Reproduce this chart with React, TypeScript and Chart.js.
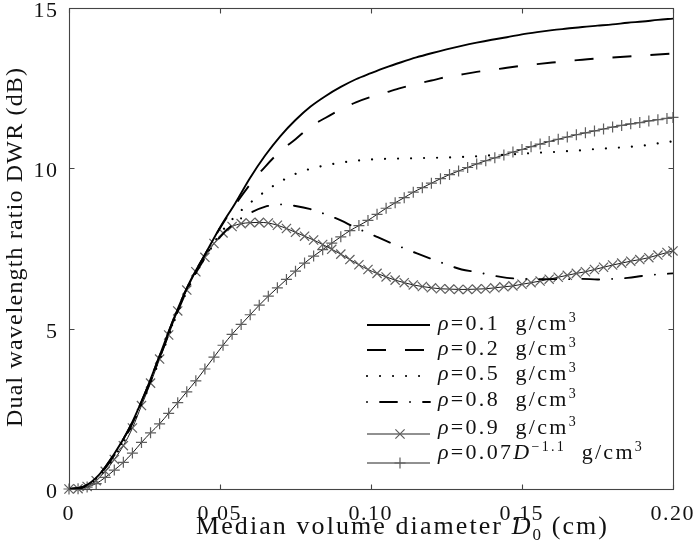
import React, { useEffect, useRef } from 'react';
import { Chart, registerables } from 'chart.js';

Chart.register(...registerables);

const FONT = '"Liberation Serif", "Times New Roman", serif';

// ---- axes ----
const xTicks = [0, 0.05, 0.1, 0.15, 0.2];
const xTickLabels = ['0', '0.05', '0.10', '0.15', '0.20'];
const yTicks = [0, 5, 10, 15];
const yTickLabels = ['0', '5', '10', '15'];

// ---- unmarked curves (D in cm, DWR in dB) ----
const lineD = [0, 0.005, 0.01, 0.015, 0.02, 0.025, 0.03, 0.035, 0.04, 0.045, 0.05, 0.055, 0.06, 0.065, 0.07, 0.075, 0.08, 0.085, 0.09, 0.095, 0.1, 0.105, 0.11, 0.115, 0.12, 0.125, 0.13, 0.135, 0.14, 0.145, 0.15, 0.155, 0.16, 0.165, 0.17, 0.175, 0.18, 0.185, 0.19, 0.195, 0.2];
const rho01 = [0, 0.08, 0.45, 1.1, 1.9, 2.95, 4.15, 5.38, 6.45, 7.3, 8.15, 8.9, 9.7, 10.4, 11.0, 11.5, 11.92, 12.25, 12.53, 12.77, 12.96, 13.14, 13.3, 13.45, 13.58, 13.7, 13.81, 13.91, 14.0, 14.08, 14.17, 14.24, 14.3, 14.35, 14.4, 14.44, 14.48, 14.53, 14.57, 14.62, 14.66];
const rho02 = [0, 0.08, 0.45, 1.1, 1.9, 2.95, 4.15, 5.38, 6.45, 7.3, 8.13, 8.85, 9.5, 10.05, 10.53, 10.9, 11.3, 11.57, 11.83, 12.05, 12.22, 12.36, 12.5, 12.62, 12.73, 12.84, 12.92, 13.0, 13.06, 13.13, 13.19, 13.24, 13.29, 13.34, 13.38, 13.42, 13.45, 13.48, 13.51, 13.54, 13.57];
const rho05 = [0, 0.07, 0.4, 1.0, 1.8, 2.85, 4.02, 5.27, 6.36, 7.22, 7.95, 8.5, 8.92, 9.28, 9.58, 9.82, 9.98, 10.09, 10.17, 10.23, 10.27, 10.29, 10.3, 10.31, 10.32, 10.33, 10.35, 10.37, 10.4, 10.42, 10.45, 10.48, 10.5, 10.53, 10.56, 10.6, 10.63, 10.66, 10.7, 10.77, 10.84];
const rho08 = [0, 0.07, 0.42, 1.05, 1.85, 2.9, 4.08, 5.3, 6.38, 7.2, 7.85, 8.3, 8.6, 8.8, 8.87, 8.82, 8.72, 8.56, 8.37, 8.14, 7.94, 7.73, 7.54, 7.35, 7.17, 7.0, 6.84, 6.76, 6.66, 6.58, 6.55, 6.54, 6.54, 6.54, 6.55, 6.53, 6.55, 6.58, 6.64, 6.69, 6.72];

// ---- marked curves ----
const markD = [0, 0.003, 0.006, 0.009, 0.012, 0.015, 0.018, 0.021, 0.024, 0.027, 0.03, 0.033, 0.036, 0.039, 0.042, 0.045, 0.048, 0.051, 0.054, 0.057, 0.06, 0.063, 0.066, 0.069, 0.072, 0.075, 0.078, 0.081, 0.084, 0.087, 0.09, 0.093, 0.096, 0.099, 0.102, 0.105, 0.108, 0.111, 0.114, 0.117, 0.12, 0.123, 0.126, 0.129, 0.132, 0.135, 0.138, 0.141, 0.144, 0.147, 0.15, 0.153, 0.156, 0.159, 0.162, 0.165, 0.168, 0.171, 0.174, 0.177, 0.18, 0.183, 0.186, 0.189, 0.192, 0.195, 0.198, 0.2];
const rho09 = [0, 0.01, 0.08, 0.26, 0.55, 0.92, 1.35, 1.9, 2.6, 3.3, 4.05, 4.8, 5.55, 6.2, 6.77, 7.22, 7.65, 7.98, 8.18, 8.27, 8.3, 8.31, 8.29, 8.22, 8.12, 8.0, 7.88, 7.76, 7.62, 7.47, 7.32, 7.15, 6.99, 6.84, 6.72, 6.61, 6.51, 6.43, 6.36, 6.31, 6.27, 6.24, 6.23, 6.22, 6.22, 6.23, 6.24, 6.27, 6.3, 6.33, 6.38, 6.43, 6.48, 6.54, 6.6, 6.66, 6.72, 6.77, 6.84, 6.91, 6.98, 7.04, 7.1, 7.15, 7.21, 7.29, 7.37, 7.42];
const rhoVar = [0, 0.01, 0.06, 0.17, 0.36, 0.59, 0.83, 1.12, 1.45, 1.75, 2.03, 2.36, 2.69, 3.03, 3.37, 3.74, 4.11, 4.48, 4.82, 5.13, 5.43, 5.73, 6.01, 6.27, 6.53, 6.79, 7.04, 7.26, 7.46, 7.66, 7.86, 8.05, 8.21, 8.37, 8.56, 8.75, 8.92, 9.08, 9.25, 9.39, 9.53, 9.67, 9.8, 9.91, 10.02, 10.13, 10.23, 10.32, 10.41, 10.5, 10.58, 10.67, 10.75, 10.83, 10.9, 10.97, 11.04, 11.1, 11.16, 11.22, 11.28, 11.33, 11.38, 11.42, 11.47, 11.51, 11.55, 11.58];

// ---- text ----
type Seg = { t: string; it?: boolean; sup?: boolean; sub?: boolean };
const legend01: Seg[] = [{ t: 'ρ', it: true }, { t: '=0.1  g/cm' }, { t: '3', sup: true }];
const legend02: Seg[] = [{ t: 'ρ', it: true }, { t: '=0.2  g/cm' }, { t: '3', sup: true }];
const legend05: Seg[] = [{ t: 'ρ', it: true }, { t: '=0.5  g/cm' }, { t: '3', sup: true }];
const legend08: Seg[] = [{ t: 'ρ', it: true }, { t: '=0.8  g/cm' }, { t: '3', sup: true }];
const legend09: Seg[] = [{ t: 'ρ', it: true }, { t: '=0.9  g/cm' }, { t: '3', sup: true }];
const legendVar: Seg[] = [{ t: 'ρ', it: true }, { t: '=0.07' }, { t: 'D', it: true }, { t: '−1.1', sup: true }, { t: '  g/cm' }, { t: '3', sup: true }];
const yTitle: Seg[] = [{ t: 'Dual wavelength ratio DWR (dB)' }];
const xTitle: Seg[] = [{ t: 'Median volume diameter ' }, { t: 'D', it: true }, { t: '0', sub: true }, { t: ' (cm)' }];

function segFont(s: Seg, size: number) {
  const fs = s.sup || s.sub ? Math.round(size * 0.64) : size;
  return `${s.it ? 'italic ' : ''}${fs}px ${FONT}`;
}
function measureSegs(ctx: CanvasRenderingContext2D, segs: Seg[], size: number) {
  let w = 0, n = 0;
  for (const s of segs) {
    ctx.font = segFont(s, size);
    for (const ch of s.t) { w += ctx.measureText(ch).width; n++; }
  }
  return { w, n };
}
function drawSegs(ctx: CanvasRenderingContext2D, segs: Seg[], x: number, y: number, size: number, spacing: number) {
  for (const s of segs) {
    ctx.font = segFont(s, size);
    const dy = s.sup ? -size * 0.38 : s.sub ? size * 0.22 : 0;
    for (const ch of s.t) {
      ctx.fillText(ch, x, y + dy);
      x += ctx.measureText(ch).width + spacing;
    }
  }
  return x;
}

const pts = (xs: number[], ys: number[]) => xs.map((x, i) => ({ x, y: ys[i] }));

const styles = [
  { dash: [] as number[], width: 1.9, cap: 'butt' as CanvasLineCap },
  { dash: [19, 19], width: 1.9, cap: 'butt' as CanvasLineCap },
  { dash: [0.01, 13], width: 2.2, cap: 'round' as CanvasLineCap },
  { dash: [17, 13, 0.01, 13], width: 1.9, cap: 'round' as CanvasLineCap },
];

const legendRows = [legend01, legend02, legend05, legend08, legend09, legendVar];
const MARK_X_R = 6.5;
const MARK_P_R = 5.5;
const MARK_COLOR = '#5e5e5e';

const decorPlugin = {
  id: 'decor',
  afterDraw(chart: any) {
    const { ctx, chartArea: a, scales } = chart;
    const xs = scales.x, ys = scales.y;
    ctx.save();
    ctx.setLineDash([]);
    ctx.strokeStyle = '#444';
    ctx.lineWidth = 1.1;
    const L = Math.round(a.left) + 0.5, R = Math.round(a.right) + 0.5;
    const T = Math.round(a.top) + 0.5, B = Math.round(a.bottom) + 0.5;
    ctx.strokeRect(L, T, R - L, B - T);
    ctx.beginPath();
    for (const v of xTicks) {
      const px = Math.round(xs.getPixelForValue(v)) + 0.5;
      ctx.moveTo(px, B); ctx.lineTo(px, B - 5);
      ctx.moveTo(px, T); ctx.lineTo(px, T + 5);
    }
    for (const v of yTicks) {
      const py = Math.round(ys.getPixelForValue(v)) + 0.5;
      ctx.moveTo(L, py); ctx.lineTo(L + 5, py);
      ctx.moveTo(R, py); ctx.lineTo(R - 5, py);
    }
    ctx.stroke();

    ctx.fillStyle = '#111';
    ctx.textBaseline = 'alphabetic';
    ctx.textAlign = 'left';
    const tickSize = 22, tickSp = 1.5;
    xTicks.forEach((v, i) => {
      const seg = [{ t: xTickLabels[i] }];
      const m = measureSegs(ctx, seg, tickSize);
      const w = m.w + tickSp * (m.n - 1);
      drawSegs(ctx, seg, xs.getPixelForValue(v) - w / 2 - 1, a.bottom + 31, tickSize, tickSp);
    });
    yTicks.forEach((v, i) => {
      const seg = [{ t: yTickLabels[i] }];
      const m = measureSegs(ctx, seg, tickSize);
      const w = m.w + tickSp * (m.n - 1);
      drawSegs(ctx, seg, 57 - w, ys.getPixelForValue(v) + 9, tickSize, tickSp);
    });

    // x title
    {
      const size = 26;
      const m = measureSegs(ctx, xTitle, size);
      const sp = Math.max(0, (411 - m.w) / (m.n - 1));
      drawSegs(ctx, xTitle, 196, 534, size, sp);
    }
    // y title
    {
      const size = 24;
      const m = measureSegs(ctx, yTitle, size);
      const sp = Math.max(0, (359 - m.w) / (m.n - 1));
      ctx.save();
      ctx.translate(22, 427);
      ctx.rotate(-Math.PI / 2);
      drawSegs(ctx, yTitle, 0, 0, size, sp);
      ctx.restore();
    }

    // legend
    const lineY = [325, 350, 376, 402, 434, 463];
    const textY = [330, 355, 380, 406, 434, 459];
    legendRows.forEach((segs, i) => {
      const y = lineY[i];
      ctx.save();
      if (i < 4) {
        const st = styles[i];
        ctx.strokeStyle = '#000';
        ctx.lineWidth = st.width;
        ctx.lineCap = st.cap;
        ctx.setLineDash(st.dash);
        if (i === 3) ctx.lineDashOffset = 30;
      } else {
        ctx.strokeStyle = '#222';
        ctx.lineWidth = 1;
        ctx.setLineDash([]);
      }
      ctx.beginPath();
      ctx.moveTo(367, y); ctx.lineTo(430, y);
      ctx.stroke();
      if (i >= 4) {
        ctx.strokeStyle = MARK_COLOR;
        ctx.lineWidth = 1.2;
        ctx.beginPath();
        const cx = 400;
        if (i === 4) {
          const d = MARK_X_R * Math.SQRT1_2;
          ctx.moveTo(cx - d, y - d); ctx.lineTo(cx + d, y + d);
          ctx.moveTo(cx - d, y + d); ctx.lineTo(cx + d, y - d);
        } else {
          const r = MARK_P_R;
          ctx.moveTo(cx - r, y); ctx.lineTo(cx + r, y);
          ctx.moveTo(cx, y - r); ctx.lineTo(cx, y + r);
        }
        ctx.stroke();
      }
      ctx.restore();
      drawSegs(ctx, segs, 438, textY[i], 22, 2.3);
    });
    ctx.restore();
  },
};

export default function App() {
  const ref = useRef<HTMLCanvasElement>(null);
  useEffect(() => {
    if (!ref.current) return;
    const mk = (i: number, d: number[]) => ({
      data: pts(lineD, d),
      borderColor: '#000',
      borderWidth: styles[i].width,
      borderDash: styles[i].dash,
      borderCapStyle: styles[i].cap,
      pointRadius: 0,
      pointHitRadius: 0,
      cubicInterpolationMode: 'monotone' as const,
      fill: false,
    });
    const mkMarked = (d: number[], style: string, r: number) => ({
      data: pts(markD, d),
      borderColor: '#1a1a1a',
      borderWidth: 1,
      pointStyle: style,
      pointRadius: r,
      pointBorderColor: MARK_COLOR,
      pointBackgroundColor: 'rgba(0,0,0,0)',
      pointBorderWidth: 1.2,
      pointHitRadius: 0,
      cubicInterpolationMode: 'monotone' as const,
      fill: false,
      clip: false as any,
    });
    const chart = new Chart(ref.current, {
      type: 'line',
      data: {
        datasets: [
          mk(0, rho01),
          mk(1, rho02),
          mk(2, rho05),
          mk(3, rho08),
          mkMarked(rho09, 'crossRot', MARK_X_R),
          mkMarked(rhoVar, 'cross', MARK_P_R),
        ] as any,
      },
      options: {
        animation: false,
        responsive: false,
        events: [],
        layout: { padding: { left: 69, right: 27, top: 6, bottom: 62 } },
        scales: {
          x: { type: 'linear', min: 0, max: 0.2, display: false },
          y: { type: 'linear', min: 0, max: 15, display: false },
        },
        plugins: { legend: { display: false }, tooltip: { enabled: false } },
      },
      plugins: [decorPlugin],
    });
    return () => chart.destroy();
  }, []);
  return (
    <canvas
      ref={ref}
      width={700}
      height={551}
      style={{ position: 'absolute', left: 0, top: 0, width: 700, height: 551, background: '#fff' }}
    />
  );
}
